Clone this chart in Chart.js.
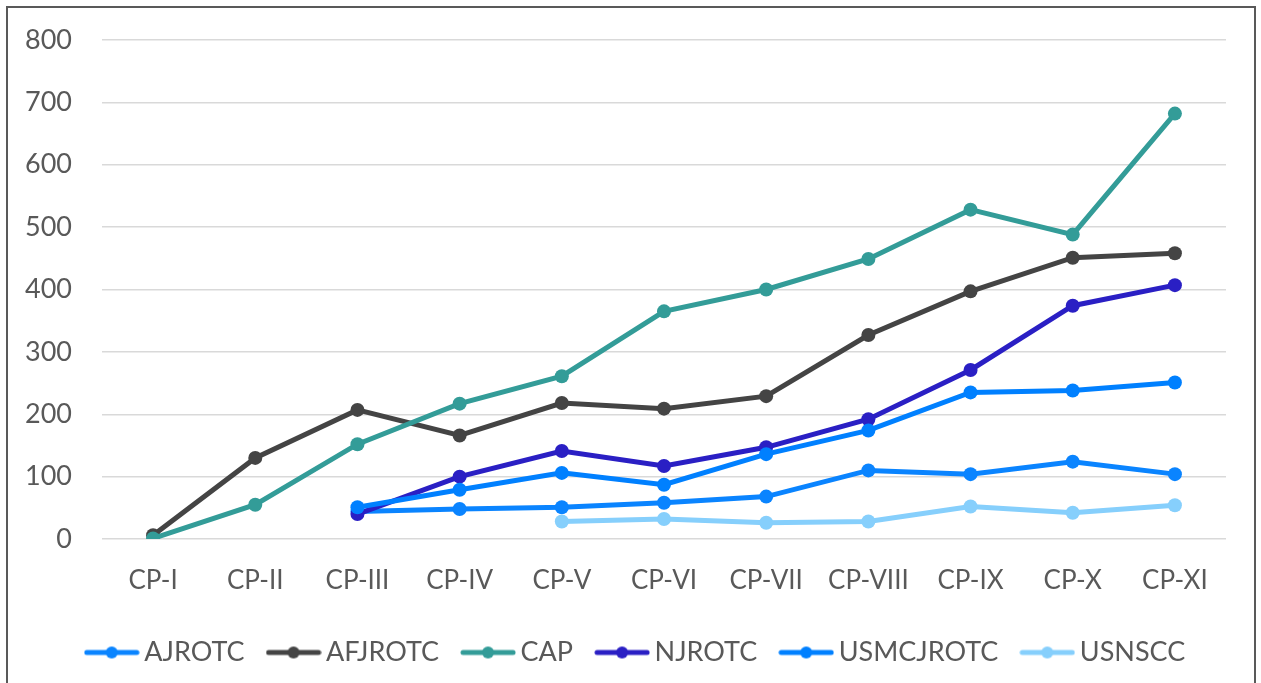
<!DOCTYPE html>
<html>
<head>
<meta charset="utf-8">
<script src="https://cdn.jsdelivr.net/npm/chart.js@4"></script>
<style>
  body { margin: 0; background: #fff; }
  #wrap { position: relative; width: 1261px; height: 683px; overflow: hidden; }
  #frame { position: absolute; left: 6px; top: 6px; width: 1246px; height: 720px; border: 2px solid #595959; pointer-events: none; }
</style>
</head>
<body>
<div id="wrap">
  <canvas id="cpChart" width="1261" height="683"></canvas>
  <div id="frame"></div>
</div>
<script>
const categories = ['CP-I', 'CP-II', 'CP-III', 'CP-IV', 'CP-V', 'CP-VI', 'CP-VII', 'CP-VIII', 'CP-IX', 'CP-X', 'CP-XI'];
const ajrotc = [null, null, 44, 48, 51, 58, 68, 110, 104, 124, 104];
const afjrotc = [6, 130, 207, 166, 218, 209, 229, 327, 397, 451, 458];
const cap = [1, 55, 152, 217, 261, 365, 400, 449, 528, 488, 682];
const njrotc = [null, null, 40, 100, 141, 117, 147, 192, 271, 374, 407];
const usmcjrotc = [null, null, 51, 79, 106, 87, 136, 174, 235, 238, 251];
const usnscc = [null, null, null, null, 28, 32, 26, 28, 52, 42, 54];

const seriesNames = ['AJROTC', 'AFJROTC', 'CAP', 'NJROTC', 'USMCJROTC', 'USNSCC'];
const seriesData = [ajrotc, afjrotc, cap, njrotc, usmcjrotc, usnscc];
const seriesColors = ['#0a84ff', '#444444', '#339c98', '#2a1fc4', '#0080ff', '#86cffc'];

// little line-with-dot marker for the legend
function legendMarker(color) {
    const c = document.createElement('canvas');
    c.width = 56;
    c.height = 14;
    const g = c.getContext('2d');
    g.strokeStyle = color;
    g.lineWidth = 5;
    g.lineCap = 'round';
    g.beginPath();
    g.moveTo(3, 7);
    g.lineTo(53, 7);
    g.stroke();
    g.fillStyle = color;
    g.beginPath();
    g.arc(28, 7, 6, 0, Math.PI * 2);
    g.fill();
    return c;
}

// nudge the legend row a little right, it is centred on the whole frame in the original
const legendShift = {
    id: 'legendShift',
    afterLayout(chart) {
        chart.legend.left += 26;
        chart.legend.right += 26;
    }
};

const datasets = seriesNames.map((name, i) => ({
    label: name,
    data: seriesData[i],
    borderColor: seriesColors[i],
    backgroundColor: seriesColors[i],
    borderWidth: 5,
    pointRadius: 7,
    pointHoverRadius: 7,
    pointBorderWidth: 0,
    tension: 0,
    fill: false,
    // later series sit on top, like the original
    order: seriesNames.length - i
}));

const ctx = document.getElementById('cpChart').getContext('2d');
const cpChart = new Chart(ctx, {
    type: 'line',
    data: {
        labels: categories,
        datasets: datasets
    },
    options: {
        responsive: false,
        animation: false,
        layout: {
            padding: { top: 40, right: 35, bottom: 7, left: 0 }
        },
        scales: {
            x: {
                offset: true,
                grid: { display: false },
                border: { display: false },
                ticks: {
                    color: '#595959',
                    padding: 18,
                    font: { family: 'Lato', size: 26 }
                },
                afterFit: (scale) => { scale.height = 70; }
            },
            y: {
                min: 0,
                max: 800,
                grid: { color: '#d9d9d9', lineWidth: 1.5, drawTicks: false },
                border: { display: false },
                ticks: {
                    stepSize: 100,
                    color: '#595959',
                    padding: 30,
                    font: { family: 'Lato', size: 27 }
                },
                afterFit: (scale) => {
                    scale.width = 102;
                    scale.paddingTop = 0;
                    scale.paddingBottom = 0;
                }
            }
        },
        plugins: {
            tooltip: { enabled: false },
            legend: {
                position: 'bottom',
                labels: {
                    usePointStyle: true,
                    pointStyleWidth: 38,
                    padding: 30,
                    color: '#595959',
                    font: { family: 'Lato', size: 27 },
                    sort: (a, b) => a.datasetIndex - b.datasetIndex,
                    generateLabels: (chart) => {
                        const items = Chart.defaults.plugins.legend.labels.generateLabels(chart);
                        items.forEach((item) => {
                            item.pointStyle = legendMarker(seriesColors[item.datasetIndex]);
                        });
                        return items;
                    }
                }
            }
        }
    },
    plugins: [legendShift]
});
</script>
</body>
</html>
